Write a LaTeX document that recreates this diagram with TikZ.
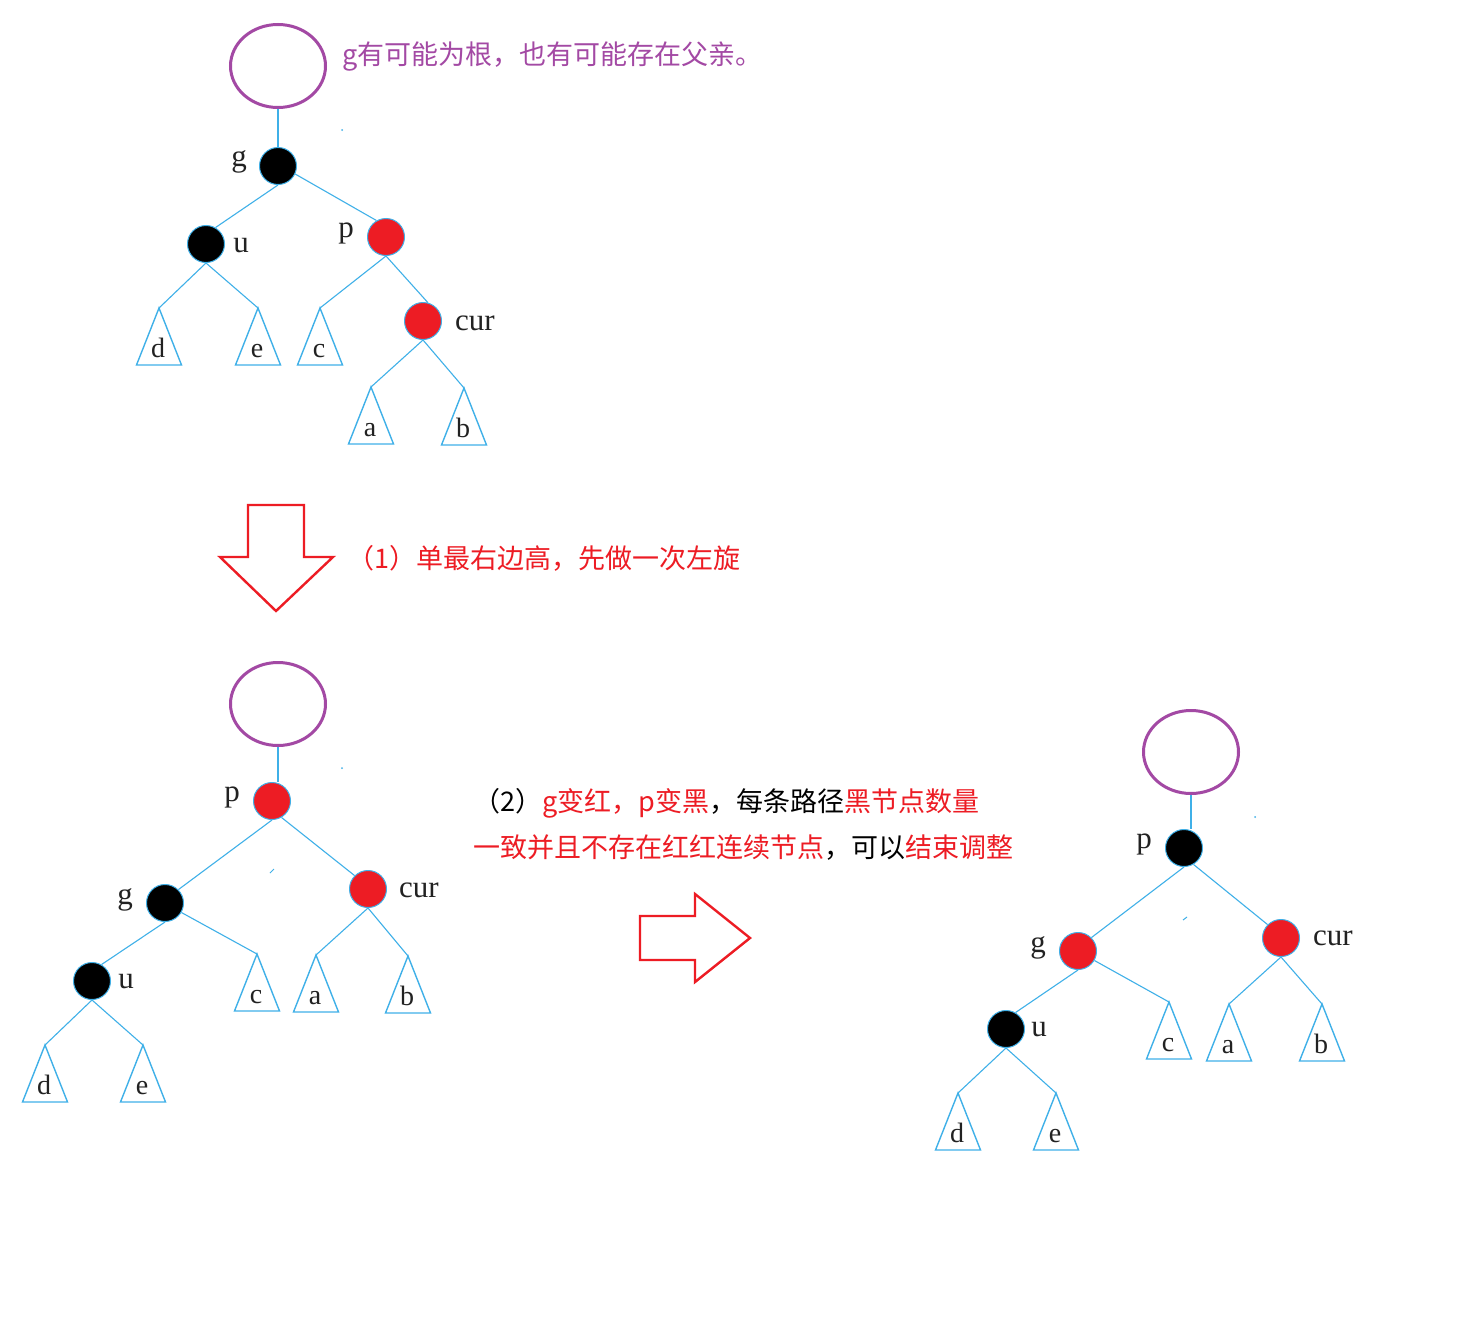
\documentclass[tikz,border=0pt]{standalone}
\usepackage{fontspec}
\setmainfont{Liberation Serif}
\newfontfamily\cjk{Noto Sans CJK SC}
\usetikzlibrary{shapes.geometric}
\definecolor{edgeblue}{HTML}{3FB0E8}
\definecolor{nodered}{HTML}{ED1C24}
\definecolor{purp}{HTML}{A349A4}
\definecolor{txtred}{HTML}{ED1C24}
\definecolor{lbltext}{HTML}{222222}
\begin{document}
\begin{tikzpicture}[x=1pt,y=-1pt,
  edge/.style={draw=edgeblue, line width=1.1pt},
  rootline/.style={draw=edgeblue, line width=1.8pt},
  bnode/.style={circle, minimum size=37pt, inner sep=0pt, draw=edgeblue, line width=1pt, fill=black},
  rnode/.style={circle, minimum size=37pt, inner sep=0pt, draw=edgeblue, line width=1pt, fill=nodered},
  topell/.style={ellipse, minimum width=95pt, minimum height=83pt, draw=purp, line width=3pt},
  lbl/.style={inner sep=0pt, text=lbltext, font=\fontsize{31}{34}\selectfont},
  leaf/.style={inner sep=0pt, text=lbltext, font=\fontsize{28}{31}\selectfont},
  tri/.style={draw=edgeblue, line width=1.4pt, line join=miter},
  cjkt/.style={inner sep=0pt, font=\cjk\fontsize{27}{32}\selectfont},
  bigarrow/.style={draw=nodered, line width=2.4pt, line join=miter},
  speck/.style={fill=edgeblue},
  subtree/.pic={
    \draw[tri] (0,0) -- (-22.5,57) -- (22.5,57) -- cycle;
    \coordinate (-apex) at (0,0);
    \node[leaf, anchor=base] (-txt) at (-1,49) {#1};
  }
]
\fill[white] (0,0) rectangle (1465,1333);
\useasboundingbox (0,0) rectangle (1465,1333);

% ---------------- Tree 1 ----------------
\node[topell] (e1) at (278,66) {};
\node[bnode] (t1g) at (278,166) {};
\node[bnode] (t1u) at (206,244) {};
\node[rnode] (t1p) at (386,237) {};
\node[rnode] (t1cur) at (423,321) {};
\node[lbl] (t1gl) at (239,162) {g};
\node[lbl] (t1ul) at (241,246) {u};
\node[lbl] (t1pl) at (346,233) {p};
\node[lbl] (t1curl) at (475,323) {cur};
\pic (t1d) at (159,308) {subtree=d};
\pic (t1e) at (258,308) {subtree=e};
\pic (t1c) at (320,308) {subtree=c};
\pic (t1a) at (371,387) {subtree=a};
\pic (t1b) at (464,388) {subtree=b};
\draw[rootline] (e1.south) -- (e1.south |- t1g.north);
\draw[edge] (t1g.south) -- (t1u.60);
\draw[edge] (t1g.-25) -- (t1p.120);
\draw[edge] (t1u.south) -- (t1d-apex);
\draw[edge] (t1u.south) -- (t1e-apex);
\draw[edge] (t1p.south) -- (t1c-apex);
\draw[edge] (t1p.south) -- (t1cur.75);
\draw[edge] (t1cur.south) -- (t1a-apex);
\draw[edge] (t1cur.south) -- (t1b-apex);
\fill[speck] (342,130) circle (1pt);

% ---------------- Text 0 ----------------
\node[cjkt, text=purp, anchor=west] (txt0) at (342,57) {g有可能为根，也有可能存在父亲。};

% ---------------- Down arrow ----------------
\draw[bigarrow] (248,505) -- (304,505) -- (304,557) -- (333,557) -- (276,611) -- (220,557) -- (248,557) -- cycle;
\node[cjkt, text=txtred, anchor=west] (txt1) at (347,558) {（1）单最右边高，先做一次左旋};

% ---------------- Tree 2 ----------------
\node[topell] (e2) at (278,704) {};
\node[rnode] (t2p) at (272,801) {};
\node[bnode] (t2g) at (165,903) {};
\node[rnode] (t2cur) at (368,889) {};
\node[bnode] (t2u) at (92,981) {};
\node[lbl] (t2pl) at (232,797) {p};
\node[lbl] (t2gl) at (125,900) {g};
\node[lbl] (t2curl) at (419,890) {cur};
\node[lbl] (t2ul) at (126,982) {u};
\pic (t2c) at (257,954) {subtree=c};
\pic (t2a) at (316,955) {subtree=a};
\pic (t2b) at (408,956) {subtree=b};
\pic (t2d) at (45,1045) {subtree=d};
\pic (t2e) at (143,1045) {subtree=e};
\draw[rootline] (e2.south) -- (e2.south |- t2p.north);
\draw[edge] (t2p.south) -- (t2g.45);
\draw[edge] (t2p.-60) -- (t2cur.135);
\draw[edge] (t2g.south) -- (t2u.60);
\draw[edge] (t2g.-30) -- (t2c-apex);
\draw[edge] (t2u.south) -- (t2d-apex);
\draw[edge] (t2u.south) -- (t2e-apex);
\draw[edge] (t2cur.south) -- (t2a-apex);
\draw[edge] (t2cur.south) -- (t2b-apex);
\fill[speck] (342,768) circle (1pt);
\draw[edgeblue, line width=1pt] (270,873) -- (274,869);

% ---------------- Text 2 ----------------
\node[cjkt, anchor=west] (txt2a) at (473,803) {（2）\textcolor{txtred}{g变红，p变黑}，每条路径\textcolor{txtred}{黑节点数量}};
\node[cjkt, text=txtred, anchor=west] (txt2b) at (473,848) {一致并且不存在红红连续节点\textcolor{black}{，可以}结束调整};

% ---------------- Right arrow ----------------
\draw[bigarrow] (640,916) -- (695,916) -- (695,894) -- (750,938) -- (695,982) -- (695,960) -- (640,960) -- cycle;

% ---------------- Tree 3 ----------------
\node[topell] (e3) at (1191,752) {};
\node[bnode] (t3p) at (1184,848) {};
\node[rnode] (t3g) at (1078,951) {};
\node[rnode] (t3cur) at (1281,938) {};
\node[bnode] (t3u) at (1006,1029) {};
\node[lbl] (t3pl) at (1144,844) {p};
\node[lbl] (t3gl) at (1038,948) {g};
\node[lbl] (t3curl) at (1333,938) {cur};
\node[lbl] (t3ul) at (1039,1030) {u};
\pic (t3c) at (1169,1002) {subtree=c};
\pic (t3a) at (1229,1004) {subtree=a};
\pic (t3b) at (1322,1004) {subtree=b};
\pic (t3d) at (958,1093) {subtree=d};
\pic (t3e) at (1056,1093) {subtree=e};
\draw[rootline] (e3.south) -- (e3.south |- t3p.north);
\draw[edge] (t3p.south) -- (t3g.45);
\draw[edge] (t3p.-60) -- (t3cur.135);
\draw[edge] (t3g.south) -- (t3u.60);
\draw[edge] (t3g.-30) -- (t3c-apex);
\draw[edge] (t3u.south) -- (t3d-apex);
\draw[edge] (t3u.south) -- (t3e-apex);
\draw[edge] (t3cur.south) -- (t3a-apex);
\draw[edge] (t3cur.south) -- (t3b-apex);
\fill[speck] (1255,817) circle (1pt);
\draw[edgeblue, line width=1pt] (1183,920) -- (1187,917);
\end{tikzpicture}
\end{document}
